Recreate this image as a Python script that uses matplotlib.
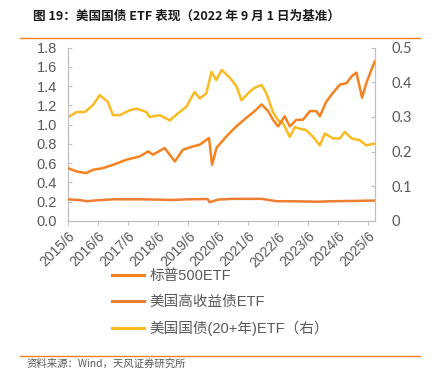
import matplotlib
matplotlib.use("Agg")
import matplotlib.pyplot as plt
from matplotlib.lines import Line2D

plt.rcParams['font.family'] = ['Liberation Sans', 'Noto Sans CJK SC', 'DejaVu Sans']

# ---- data (x in decimal years) ----
spx_x = [2015.50, 2015.78, 2016.11, 2016.33, 2016.67, 2017.00, 2017.44, 2017.89, 2018.17,
         2018.33, 2018.72, 2019.06, 2019.33, 2019.67, 2019.89, 2020.20, 2020.30, 2020.45,
         2020.78, 2021.11, 2021.44, 2021.72, 2021.95, 2022.17, 2022.33, 2022.50, 2022.72,
         2022.89, 2023.11, 2023.33, 2023.56, 2023.78, 2023.89, 2024.11, 2024.33, 2024.56,
         2024.78, 2024.95, 2025.11, 2025.30, 2025.44, 2025.61, 2025.72]
spx_y = [0.549, 0.514, 0.497, 0.531, 0.549, 0.583, 0.635, 0.670, 0.722,
         0.688, 0.757, 0.618, 0.740, 0.774, 0.792, 0.861, 0.583, 0.760,
         0.878, 0.982, 1.070, 1.140, 1.210, 1.140, 1.050, 0.982, 1.086,
         0.982, 1.050, 1.050, 1.140, 1.140, 1.086, 1.240, 1.330, 1.415,
         1.430, 1.500, 1.540, 1.280, 1.430, 1.570, 1.655]

hy_x = [2015.50, 2015.95, 2016.11, 2016.50, 2017.00, 2018.00, 2018.95, 2019.50, 2020.15,
        2020.22, 2020.50, 2021.00, 2021.95, 2022.45, 2023.00, 2023.80, 2024.30, 2025.00,
        2025.72]
hy_y = [0.225, 0.215, 0.205, 0.215, 0.225, 0.225, 0.218, 0.225, 0.228,
        0.195, 0.222, 0.230, 0.230, 0.205, 0.205, 0.200, 0.205, 0.208,
        0.212]

tlt_x = [2015.50, 2015.78, 2016.06, 2016.33, 2016.56, 2016.83, 2017.00, 2017.22, 2017.56,
         2017.78, 2018.11, 2018.22, 2018.56, 2018.89, 2019.22, 2019.44, 2019.72, 2019.89,
         2020.11, 2020.28, 2020.44, 2020.62, 2020.89, 2021.11, 2021.28, 2021.56, 2021.72,
         2021.95, 2022.11, 2022.33, 2022.50, 2022.67, 2022.89, 2023.06, 2023.22, 2023.44,
         2023.67, 2023.89, 2024.06, 2024.33, 2024.56, 2024.72, 2024.95, 2025.22, 2025.44,
         2025.72]
tlt_y = [0.299, 0.314, 0.314, 0.334, 0.363, 0.343, 0.305, 0.305, 0.319,
         0.324, 0.314, 0.300, 0.305, 0.290, 0.314, 0.329, 0.372, 0.353,
         0.368, 0.430, 0.406, 0.435, 0.413, 0.389, 0.348, 0.373, 0.384,
         0.392, 0.368, 0.314, 0.290, 0.281, 0.242, 0.271, 0.266, 0.262,
         0.242, 0.218, 0.252, 0.238, 0.238, 0.257, 0.238, 0.233, 0.218,
         0.223]

xtick_pos = [2015.5 + i for i in range(11)]
xtick_labels = [f"{2015 + i}/6" for i in range(11)]
left_ticks = [0.0, 0.2, 0.4, 0.6, 0.8, 1.0, 1.2, 1.4, 1.6, 1.8]
right_ticks = [0.0, 0.1, 0.2, 0.3, 0.4, 0.5]
right_labels = ["0", "0.1", "0.2", "0.3", "0.4", "0.5"]

names = ["标普500ETF", "美国高收益债ETF", "美国国债(20+年)ETF（右）"]
c_spx = "#F58220"
c_hy = "#EE7E32"
c_tlt = "#FBBA22"
gray = "#595959"
spine_c = "#BFBFBF"

fig = plt.figure(figsize=(4.32, 3.69), dpi=100)
W, H = 432, 369
ax = fig.add_axes([68 / W, 1 - 221 / H, (375 - 68) / W, (221 - 47.5) / H])
ax2 = ax.twinx()

ax.plot(spx_x, spx_y, color=c_spx, lw=1.8, zorder=3)
ax.plot(hy_x, hy_y, color=c_hy, lw=1.8, zorder=3)
ax2.plot(tlt_x, tlt_y, color=c_tlt, lw=1.8, zorder=2)
ax.set_zorder(ax2.get_zorder() + 1)
ax.patch.set_visible(False)

ax.set_xlim(2015.5, 2025.73)
ax.set_ylim(0, 1.8)
ax2.set_ylim(0, 0.5)

ax.set_yticks(left_ticks)
ax.set_yticklabels([f"{v:.1f}" for v in left_ticks], fontsize=10.5, color=gray)
ax2.set_yticks(right_ticks)
ax2.set_yticklabels(right_labels, fontsize=10.5, color=gray, family=['Lato', 'DejaVu Sans'])
ax.set_xticks(xtick_pos)
ax.set_xticklabels(xtick_labels, rotation=45, ha='right', va='top',
                   rotation_mode='anchor', fontsize=10, color=gray)

for a in (ax, ax2):
    for s in a.spines.values():
        s.set_color(spine_c)
        s.set_linewidth(0.8)
    a.spines['top'].set_visible(False)
ax.tick_params(axis='y', direction='in', length=3, color=spine_c, pad=8)
ax2.tick_params(axis='y', direction='in', length=3, color=spine_c, pad=12)
ax.tick_params(axis='x', direction='out', length=3, color=spine_c, pad=3)

handles = [Line2D([], [], color=c_spx, lw=2.2),
           Line2D([], [], color=c_hy, lw=2.2),
           Line2D([], [], color=c_tlt, lw=2.2)]
leg = fig.legend(handles, names, loc='upper left', bbox_to_anchor=(112 / W, 1 - 269 / H),
                 frameon=False, handlelength=2.2, labelspacing=0.8,
                 handletextpad=0.35, borderaxespad=0, borderpad=0,
                 prop={'family': ['Liberation Sans', 'Noto Sans CJK SC'], 'size': 10.5})
for t in leg.get_texts():
    t.set_color(gray)

fig.text(33 / W, 1 - 16 / H, "图 19：美国国债 ETF 表现（2022 年 9 月 1 日为基准）",
         fontsize=9.1, fontweight='bold', color='#1a1a1a', va='center', ha='left',
         family=['Noto Sans CJK SC', 'DejaVu Sans'])
fig.add_artist(Line2D([20 / W, 420 / W], [1 - 37.5 / H, 1 - 37.5 / H],
                      transform=fig.transFigure, color="#F58220", lw=1.0))
fig.add_artist(Line2D([20 / W, 420 / W], [1 - 356 / H, 1 - 356 / H],
                      transform=fig.transFigure, color="#F58220", lw=1.0))
fig.text(27 / W, 1 - 359 / H, "资料来源：Wind，天风证券研究所", fontsize=7.5, color=gray,
         va='top', ha='left', family=['Noto Sans CJK SC', 'DejaVu Sans'])

fig.savefig("out.png", dpi=100)
